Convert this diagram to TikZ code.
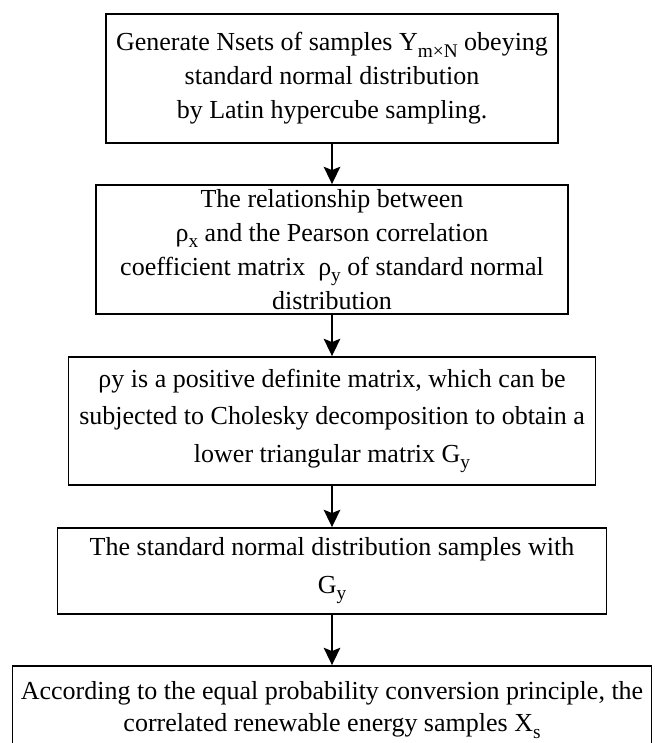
\documentclass[tikz,border=0pt]{standalone}
\usepackage{fontspec}
\setmainfont{Liberation Serif}
\usepackage{tikz}
\usetikzlibrary{arrows.meta}
\newcommand{\subtxt}[1]{\raisebox{-0.55ex}{\fontsize{14.5}{14.5}\selectfont #1}}

\begin{document}
\begin{tikzpicture}[x=0.75pt, y=-0.75pt, stepbox/.style={draw, line width=1.4pt, inner sep=0pt, align=center, font=\fontsize{19.5}{25.5}\selectfont}, arrow/.style={-{Stealth[length=13pt, width=12.5pt, inset=2.5pt]}, line width=1.1pt}]
\useasboundingbox (0,0) rectangle (654,743);
\node[stepbox, minimum width=339pt, minimum height=96.75pt] (s1) at (332,78.5) {Generate Nsets of samples Y\subtxt{m×N} obeying\\standard normal distribution\\by Latin hypercube sampling.};
\node[stepbox, minimum width=354pt, minimum height=96.75pt] (s2) at (332,249.5) {The relationship between\\ρ\subtxt{x} and the Pearson correlation\\coefficient matrix \ ρ\subtxt{y} of standard normal\\distribution};
\draw[arrow] (s1) -- (s2);
\node[stepbox, minimum width=395.25pt, minimum height=96pt, font=\fontsize{19.5}{28}\selectfont] (s3) at (332,421) {ρy is a positive definite matrix, which can be\\subjected to Cholesky decomposition to obtain a\\lower triangular matrix G\subtxt{y}};
\draw[arrow] (s2) -- (s3);
\node[stepbox, minimum width=411.75pt, minimum height=64.5pt, font=\fontsize{19.5}{28}\selectfont] (s4) at (332,571) {The standard normal distribution samples with\\G\subtxt{y}};
\draw[arrow] (s3) -- (s4);
\node[stepbox, minimum width=479.25pt, minimum height=66pt, font=\fontsize{19.5}{24}\selectfont] (s5) at (332,710) {According to the equal probability conversion principle, the\\correlated renewable energy samples X\subtxt{s}};
\draw[arrow] (s4) -- (s5);
\end{tikzpicture}
\end{document}
